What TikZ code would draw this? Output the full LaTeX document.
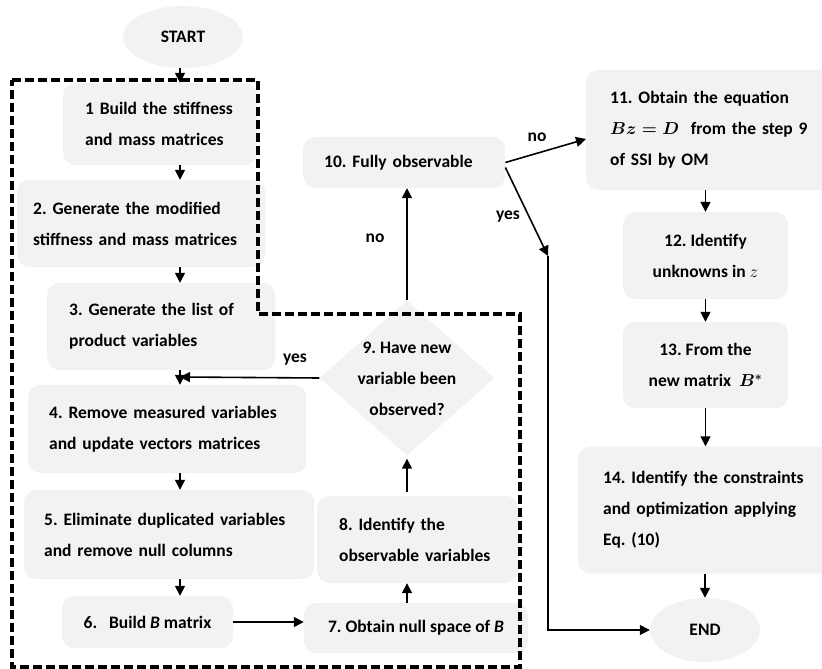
\documentclass[tikz,border=0pt]{standalone}
\usepackage{fontspec}
\setmainfont{Carlito}
\usepackage{amsmath}
\usetikzlibrary{arrows.meta,shapes.geometric}
\definecolor{boxgray}{RGB}{242,242,242}
\begin{document}
\frenchspacing\hyphenpenalty=10000
\boldmath
\begin{tikzpicture}[x=1pt, y=-1pt,
  every node/.style={font=\fontsize{17.5}{31}\selectfont\bfseries},
  stepbox/.style={fill=boxgray, rounded corners=12pt, inner ysep=0pt, align=left, anchor=west},
  endbox/.style={ellipse, fill=boxgray, inner sep=0pt},
  decision/.style={diamond, fill=boxgray, inner sep=0pt},
  arrow/.style={-{Triangle[length=10pt,width=10pt]}, line width=1.6pt},
  loopline/.style={line width=3.5pt, dash pattern=on 9pt off 4pt}]
\useasboundingbox (0,0) rectangle (822,669);
\coordinate (cx) at (180,0);
\coordinate (join) at (180,377);
\coordinate (turn) at (548,256);

\node[endbox, minimum width=120pt, minimum height=62pt] (start) at (183,37) {START};
\node[stepbox, minimum height=82pt, inner xsep=22pt, text width=150pt] (b1) at (63,124) {1 Build the stiffness\\and mass matrices};
\node[stepbox, minimum height=87pt, inner xsep=16pt, text width=216pt] (b2) at (17,223.5) {2. Generate the modified\\stiffness and mass matrices};
\node[stepbox, minimum height=87pt, inner xsep=22pt, text width=184pt] (b3) at (47,326.5) {3. Generate the list of\\product variables};
\node[stepbox, minimum height=88pt, inner xsep=21pt, text width=236pt] (b4) at (28,429) {4. Remove measured variables\\and update vectors matrices};
\node[stepbox, minimum height=89pt, inner xsep=20pt, text width=250pt] (b5) at (24,534.5) {5. Eliminate duplicated variables\\and remove null columns};
\node[stepbox, anchor=center, minimum width=171pt, minimum height=52pt] (b6) at (147.5,622) {6.\ \ \ Build \textit{B} matrix};
\node[stepbox, anchor=center, minimum width=224pt, minimum height=50pt] (b7) at (416,628) {7. Obtain null space of \textit{B}};
\node[stepbox, minimum height=87pt, inner xsep=22pt, text width=157pt] (b8) at (317,539.5) {8. Identify the\\observable variables};
\node[decision, minimum width=175pt, minimum height=155pt] (b9) at (407,378) {};
\node[align=center] (b9text) at (407,379) {9. Have new\\variable been\\observed?};
\node[stepbox, minimum height=51pt, inner xsep=21pt, text width=160pt] (b10) at (303,162.5) {10. Fully observable};
\node[stepbox, minimum height=120pt, inner xsep=24pt, text width=201pt] (b11) at (586,130) {11. Obtain the equation\\$Bz=D$\ \ from the step 9\\of SSI by OM};
\node[stepbox, anchor=center, align=center, minimum width=165pt, minimum height=87pt] (b12) at (705.5,255.5) {12. Identify\\unknowns in {\unboldmath$z$}};
\node[stepbox, anchor=center, align=center, minimum width=165pt, minimum height=86pt] (b13) at (705.5,365) {13. From the\\new matrix\ \ $B^{*}$};
\node[stepbox, minimum height=127pt, inner xsep=25pt, text width=207pt] (b14) at (578,510) {14. Identify the constraints\\and optimization applying\\Eq. (10)};
\node[endbox, minimum width=110pt, minimum height=64pt] (end) at (705,630) {END};

\node (yes1) at (295,360) {yes};
\node (no1) at (375,238) {no};
\node (no2) at (537,137) {no};
\node (yes2) at (508,217) {yes};

\draw[arrow] (start.south -| cx) -- (b1.north -| cx);
\draw[arrow] (b1.south -| cx) -- (b2.north -| cx);
\draw[arrow] (b2.south -| cx) -- (b3.north -| cx);
\draw[arrow] (b3.south -| cx) -- (b4.north -| cx);
\draw[arrow] (b4.south -| cx) -- (b5.north -| cx);
\draw[arrow] (b5.south -| cx) -- (b6.north -| cx);
\draw[arrow] (b6.east) -- (b6.east -| b7.west);
\draw[arrow] (b7.north -| b9.south) -- (b8.south -| b9.south);
\draw[arrow, shorten <=4pt, shorten >=3pt] (b8.north -| b9.south) -- (b9.south);
\draw[arrow] (b9.west) -- (join);
\draw[arrow] (b9.north) -- (b10.south -| b9.north);
\draw[arrow] (b10.east) -- ([yshift=-9pt]b11.west);
\draw[arrow] ([yshift=-5pt]b10.east) -- (turn);
\draw[arrow] (turn) |- (end.west);
\draw[arrow] (b11.south -| b12.north) -- (b12.north);
\draw[arrow] (b12.south) -- (b13.north);
\draw[arrow] (b13.south) -- (b14.north -| b13.south);
\draw[arrow] (b14.south -| end.north) -- (end.north);

\draw[loopline] (12,80) -- (258,80) -- (258,314) -- (520,314) -- (520,667) -- (12,667) -- cycle;
\end{tikzpicture}
\end{document}
